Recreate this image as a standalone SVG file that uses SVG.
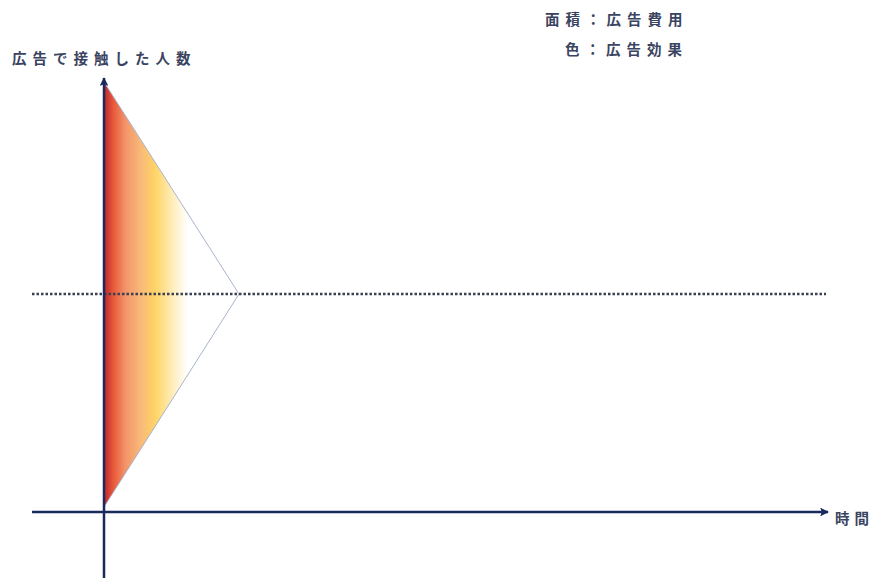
<svg xmlns="http://www.w3.org/2000/svg" width="871" height="579" viewBox="0 0 871 579">
<style>
.lbl{font-family:"Noto Sans CJK JP","Noto Sans CJK SC",sans-serif;font-weight:bold;font-size:14.5px;fill:#3a4460;letter-spacing:6px}
.tight{letter-spacing:0}
.axis{stroke:#1b2a5c;stroke-width:2.5;fill:none}
</style>
<defs>
<linearGradient id="g" x1="104" y1="0" x2="239" y2="0" gradientUnits="userSpaceOnUse">
<stop offset="0" stop-color="#c0252a"/>
<stop offset="0.07" stop-color="#e85a3a"/>
<stop offset="0.16" stop-color="#f2956a"/>
<stop offset="0.27" stop-color="#f9b878"/>
<stop offset="0.38" stop-color="#fed466"/>
<stop offset="0.48" stop-color="#fee8a8"/>
<stop offset="0.62" stop-color="#ffffff"/>
<stop offset="1" stop-color="#ffffff"/>
</linearGradient>
<marker id="ah" viewBox="0 0 10 10" refX="9" refY="5" markerWidth="3.5" markerHeight="3.5" orient="auto">
<path d="M0,0 L10,5 L0,10 L2,5 Z" fill="#1b2a5c"/>
</marker>
</defs>
<rect width="871" height="579" fill="#ffffff"/>
<g id="area">
<polygon points="104,82 239,294 104,507" fill="url(#g)" stroke="#a9b3cf" stroke-width="1"/>
</g>
<g id="connectors">
<line x1="32" y1="294" x2="826" y2="294" stroke="#3a4050" stroke-width="2.5" stroke-dasharray="2.5,2"/>
<line class="axis" x1="104" y1="578" x2="104" y2="78" marker-end="url(#ah)"/>
<line class="axis" x1="32" y1="512" x2="828" y2="512" marker-end="url(#ah)"/>
</g>
<g id="labels">
<text class="lbl" x="12" y="64">広告で接触した人数</text>
<text class="lbl" x="545" y="25">面積：広告費用</text>
<text class="lbl" x="565" y="55">色：広告効果</text>
<text class="lbl tight" x="835" y="524">時<tspan dx="5">間</tspan></text>
</g>
</svg>
